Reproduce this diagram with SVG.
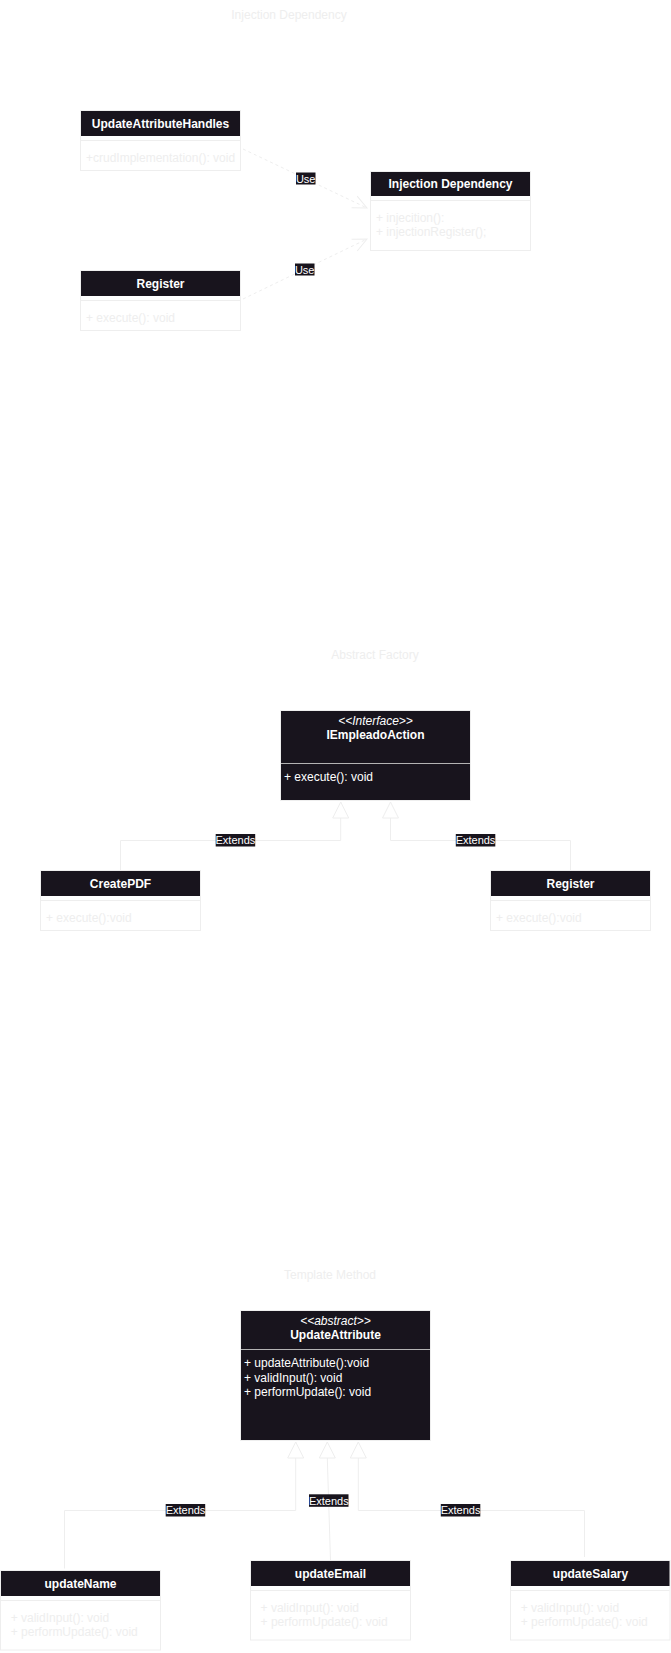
<svg xmlns="http://www.w3.org/2000/svg" width="671" height="1653" viewBox="0 0 671 1653">
<style>
text{font-family:"Liberation Sans",Arial,sans-serif;}
.title{font-size:12px;fill:#EEEEEE;text-anchor:middle;}
.box{fill:#FFFFFF;stroke:#EEEEEE;stroke-width:1;}
.hdr{fill:#18141D;}
.dark{fill:#18141D;stroke:#EEEEEE;stroke-width:1;}
.sep{stroke:#EEEEEE;stroke-width:1;}
.sepd{stroke:#B3B3B3;stroke-width:1;}
.hname{font-size:12px;font-weight:bold;fill:#FFFFFF;text-anchor:middle;}
.stereo{font-size:12px;font-style:italic;fill:#FFFFFF;text-anchor:middle;}
.body{font-size:12px;fill:#EEEEEE;}
.bodyw{font-size:12px;fill:#FFFFFF;}
.edge{fill:none;stroke:#EEEEEE;stroke-width:1;}
.dash{stroke-dasharray:3 3;}
.lbg{fill:#18141D;}
.lbl{font-size:11px;fill:#FFFFFF;text-anchor:middle;}
</style>
<defs>
<marker id="open" markerWidth="20" markerHeight="20" viewBox="-18 -10 20 20" refX="0" refY="0" orient="auto" markerUnits="userSpaceOnUse">
<path d="M -14 -6.5 L 0 0 L -14 6.5" fill="none" stroke="#EEEEEE" stroke-width="1"/>
</marker>
<marker id="tri" markerWidth="20" markerHeight="20" viewBox="-18 -10 20 20" refX="0" refY="0" orient="auto-start-reverse" markerUnits="userSpaceOnUse">
<path d="M 0 0 L -16 -8 L -16 8 Z" fill="#FFFFFF" stroke="#EEEEEE" stroke-width="1"/>
</marker>
</defs>
<rect x="0" y="0" width="671" height="1653" fill="#FFFFFF"/>

<g id="titles">
<text class="title" x="289" y="19">Injection Dependency</text>
<text class="title" x="375" y="659">Abstract Factory</text>
<text class="title" x="330" y="1279">Template Method</text>
</g>

<g id="connectors">
<path class="edge dash" d="M 243 149 L 367 208" marker-end="url(#open)"/>
<rect class="lbg" x="296" y="172.5" width="19.5" height="12"/>
<text class="lbl" x="305.7" y="182.5">Use</text>
<path class="edge dash" d="M 243 299 L 367 239" marker-end="url(#open)"/>
<rect class="lbg" x="295" y="263.5" width="19.5" height="12"/>
<text class="lbl" x="304.7" y="273.5">Use</text>

<path class="edge" d="M 340.7 802 V 840.5 H 120.5 V 870.5" marker-start="url(#tri)"/>
<rect class="lbg" x="215.7" y="834" width="39.5" height="12.5"/>
<text class="lbl" x="235.4" y="844.3">Extends</text>
<path class="edge" d="M 390.5 802 V 840.5 H 570.5 V 870.5" marker-start="url(#tri)"/>
<rect class="lbg" x="455.8" y="834" width="39.5" height="12.5"/>
<text class="lbl" x="475.5" y="844.3">Extends</text>

<path class="edge" d="M 295.7 1442 V 1510.5 H 64.5 V 1568.5" marker-start="url(#tri)"/>
<rect class="lbg" x="165.7" y="1504" width="39.5" height="12.5"/>
<text class="lbl" x="185.5" y="1514.3">Extends</text>
<path class="edge" d="M 327.3 1442 L 327.3 1458 L 330.5 1561" marker-start="url(#tri)"/>
<rect class="lbg" x="309" y="1494.3" width="39.5" height="12.5"/>
<text class="lbl" x="328.8" y="1504.5">Extends</text>
<path class="edge" d="M 358.3 1442 V 1510.5 H 584.5 V 1557" marker-start="url(#tri)"/>
<rect class="lbg" x="440.8" y="1504" width="39.5" height="12.5"/>
<text class="lbl" x="460.6" y="1514.3">Extends</text>
</g>

<g id="UpdateAttributeHandles">
<rect class="box" x="80.5" y="110.5" width="160" height="60"/>
<rect class="hdr" x="81" y="111" width="159" height="25"/>
<line class="sep" x1="81" y1="140.5" x2="240" y2="140.5"/>
<text class="hname" x="160.5" y="128">UpdateAttributeHandles</text>
<text class="body" x="86" y="161.5">+crudImplementation(): void</text>
</g>

<g id="InjectionDependency">
<rect class="box" x="370.5" y="171.5" width="160" height="79"/>
<rect class="hdr" x="371" y="172" width="159" height="24"/>
<line class="sep" x1="371" y1="200.5" x2="530" y2="200.5"/>
<text class="hname" x="450.5" y="188">Injection Dependency</text>
<text class="body" x="376" y="221.5">+ injecition():</text>
<text class="body" x="376" y="235.5">+ injectionRegister();</text>
</g>

<g id="RegisterTop">
<rect class="box" x="80.5" y="270.5" width="160" height="60"/>
<rect class="hdr" x="81" y="271" width="159" height="25"/>
<line class="sep" x1="81" y1="300.5" x2="240" y2="300.5"/>
<text class="hname" x="160.5" y="288">Register</text>
<text class="body" x="86" y="321.5">+ execute(): void</text>
</g>

<g id="IEmpleadoAction">
<rect class="dark" x="280.5" y="710.5" width="190" height="90"/>
<line class="sepd" x1="281" y1="763.5" x2="470" y2="763.5"/>
<text class="stereo" x="375.5" y="724.5">&lt;&lt;Interface&gt;&gt;</text>
<text class="hname" x="375.5" y="739">IEmpleadoAction</text>
<text class="bodyw" x="284" y="781">+ execute(): void</text>
</g>

<g id="CreatePDF">
<rect class="box" x="40.5" y="870.5" width="160" height="60"/>
<rect class="hdr" x="41" y="871" width="159" height="25"/>
<line class="sep" x1="41" y1="900.5" x2="200" y2="900.5"/>
<text class="hname" x="120.5" y="888">CreatePDF</text>
<text class="body" x="46" y="921.5">+ execute():void</text>
</g>

<g id="RegisterFactory">
<rect class="box" x="490.5" y="870.5" width="160" height="60"/>
<rect class="hdr" x="491" y="871" width="159" height="25"/>
<line class="sep" x1="491" y1="900.5" x2="650" y2="900.5"/>
<text class="hname" x="570.5" y="888">Register</text>
<text class="body" x="496" y="921.5">+ execute():void</text>
</g>

<g id="UpdateAttribute">
<rect class="dark" x="240.5" y="1310.5" width="190" height="130"/>
<line class="sepd" x1="241" y1="1349.5" x2="430" y2="1349.5"/>
<text class="stereo" x="335.5" y="1325">&lt;&lt;abstract&gt;&gt;</text>
<text class="hname" x="335.5" y="1339">UpdateAttribute</text>
<text class="bodyw" x="244" y="1367">+ updateAttribute():void</text>
<text class="bodyw" x="244" y="1381.5">+ validInput(): void</text>
<text class="bodyw" x="244" y="1396">+ performUpdate(): void</text>
</g>

<g id="updateName">
<rect class="box" x="0.5" y="1570.5" width="160" height="79.5"/>
<rect class="hdr" x="1" y="1571" width="159" height="25"/>
<line class="sep" x1="1" y1="1600.5" x2="160" y2="1600.5"/>
<text class="hname" x="80.5" y="1588">updateName</text>
<text class="body" x="10.7" y="1622">+ validInput(): void</text>
<text class="body" x="10.7" y="1636">+ performUpdate(): void</text>
</g>

<g id="updateEmail">
<rect class="box" x="250.5" y="1560.5" width="160" height="79.5"/>
<rect class="hdr" x="251" y="1561" width="159" height="25"/>
<line class="sep" x1="251" y1="1590.5" x2="410" y2="1590.5"/>
<text class="hname" x="330.5" y="1578">updateEmail</text>
<text class="body" x="260.6" y="1612">+ validInput(): void</text>
<text class="body" x="260.6" y="1626">+ performUpdate(): void</text>
</g>

<g id="updateSalary">
<rect class="box" x="510.5" y="1560.5" width="159.5" height="79.5"/>
<rect class="hdr" x="511" y="1561" width="158.5" height="25"/>
<line class="sep" x1="511" y1="1590.5" x2="669.5" y2="1590.5"/>
<text class="hname" x="590.5" y="1578">updateSalary</text>
<text class="body" x="520.7" y="1612">+ validInput(): void</text>
<text class="body" x="520.7" y="1626">+ performUpdate(): void</text>
</g>
</svg>
